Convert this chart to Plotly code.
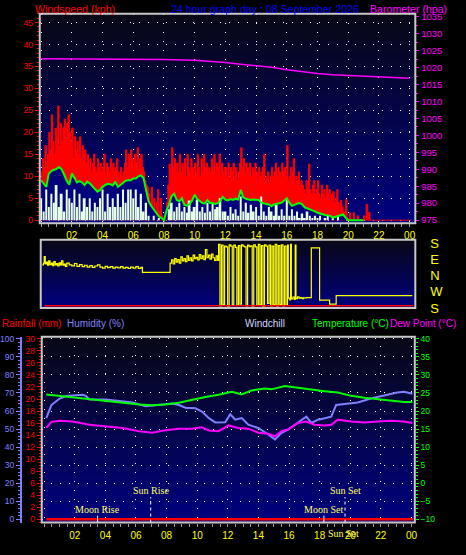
import plotly.graph_objects as go

W, H = 466, 555

# ------------------------------------------------------------------ data
HOUR_TICK_VALUES = [0, 2, 4, 6, 8, 10, 12, 14, 16, 18, 20, 22, 24]
HOUR_TICK_LABELS = [" ", "02", "04", "06", "08", "10", "12", "14", "16", "18", "20", "22", "00"]

# wind gust, 5-minute steps (kph)
GUST_HOURS = [i / 12 for i in range(290)]
GUST_KPH = [
    11, 14, 12, 17, 13, 15, 20, 16, 24, 18, 15, 21,
    19, 26, 17, 22, 18, 21, 23, 19, 22, 24, 20, 18,
    21, 14, 19, 16, 18, 15, 19, 14, 17, 15, 16, 13,
    15, 12, 14, 11, 13, 15, 12, 11, 14, 12, 13, 11,
    12, 15, 11, 13, 12, 11, 14, 12, 13, 11, 12, 14,
    11, 10, 12, 10, 11, 13, 16, 12, 15, 13, 16, 14,
    12, 15, 13, 16.5, 12, 14, 15, 12, 11, 9, 8, 7.5,
    6, 3, 7.5, 2, 5, 1, 4, 7, 2, 5, 1, 0.5,
    0, 0, 4, 8, 12.8, 10, 16.5, 12, 14, 11, 13, 11,
    15, 11, 13, 12, 14, 10, 15, 12, 11, 14, 12, 10,
    13, 11, 15, 12, 10, 14, 11, 15, 12, 13, 11, 12,
    11, 14, 12, 15, 11, 13, 12, 15, 10, 13, 11, 12,
    12, 10, 13, 9, 12, 11, 13, 10, 12, 9, 11, 13,
    16.5, 12, 14, 11, 13, 12, 11, 13, 10, 12, 11, 13,
    11, 9, 12, 10, 11, 12, 15, 9, 10, 11, 8.5, 10,
    12, 10, 11, 13, 10, 12, 11, 10, 13, 11, 12, 10,
    17, 9, 10, 12, 11, 14, 8, 10, 9, 11, 8, 9,
    8, 7, 6, 9, 7, 12.8, 7, 6, 8, 9, 6, 7,
    9, 6, 5, 8, 6, 7, 5, 8, 6, 7, 4.5, 6,
    6.5, 4, 5, 7, 4, 3, 4.5, 3, 2, 1, 4.7, 0.5,
    0, 1.7, 0, 0, 1.7, 0, 0, 1, 0, 0, 0, 0,
    1, 0, 3.6, 0, 1.8, 0, 0, 0, 0, 0, 0, 0,
    0, 0, 0, 0, 0, 0, 0, 0, 0, 0, 0, 0,
    0, 0, 0, 0, 0, 0, 0, 0, 0, 0, 0, 0,
    0, 0,
]

# wind speed, 10-minute steps (kph)
WIND_HOURS = [i / 6 for i in range(144)]
WIND_KPH = [
    5, 2, 7, 3, 6, 4,
    8, 3, 6, 2, 7, 5,
    4, 7, 3, 6, 2, 5,
    3, 5, 2, 4, 3, 5,
    7, 2, 6, 3, 5, 3,
    6, 3, 7, 4, 7, 7,
    5, 7, 3, 6, 2, 4,
    1, 0, 1, 0, 0.5, 0,
    0, 0, 2.5, 4, 2, 3,
    4, 2, 3, 1.7, 4.5, 2,
    3, 4.7, 2, 3, 1.7, 4,
    2, 4, 2.5, 3, 5, 2,
    2, 1, 3, 1.5, 2.5, 1,
    5.4, 2, 4, 1.7, 3.5, 2,
    3, 1, 5.4, 2, 1, 3,
    2, 1, 3.5, 1, 2.5, 1,
    4.7, 1, 2.5, 1, 2, 0.5,
    1.5, 0.5, 2, 1, 0.5, 1,
    0.5, 1, 0, 0.5, 1, 0,
    0.5, 0, 1, 0, 0, 0,
    0, 0, 0, 0, 0, 0,
    0, 0, 0, 0, 0, 0,
    0, 0, 0, 0, 0, 0,
    0, 0, 0, 0, 0, 0,
]

# average wind speed, 10-minute steps (kph)
AVG_HOURS = [i / 6 for i in range(127)]
AVG_KPH = [
    9.1, 8.3, 7.6, 10.6, 11.2, 11.5,
    11.7, 12.1, 11.6, 10.4, 9.0, 8.1,
    10.6, 9.7, 8.6, 8.9, 8.6, 8.0,
    8.8, 8.4, 7.8, 7.0, 6.5, 6.9,
    7.6, 8.0, 8.3, 8.2, 7.9, 8.8,
    7.6, 8.0, 8.6, 9.0, 9.1, 9.1,
    9.5, 9.5, 10.0, 10.2, 9.6, 7.2,
    4.3, 3.3, 2.4, 1.5, 0.9, 0.5,
    0.0, 2.2, 3.6, 5.5, 6.0, 4.6,
    4.3, 5.0, 3.5, 3.3, 3.7, 4.5,
    5.8, 4.8, 4.4, 3.9, 3.8, 4.6,
    3.9, 3.9, 3.7, 3.9, 4.4, 5.3,
    4.7, 4.5, 4.8, 4.6, 4.9, 4.7,
    6.9, 5.2, 4.9, 4.8, 4.6, 4.7,
    4.7, 4.6, 4.0, 3.8, 3.7, 3.6,
    3.2, 3.6, 3.7, 3.8, 4.0, 4.5,
    5.0, 4.0, 3.3, 3.5, 3.8, 3.9,
    3.6, 2.9, 2.7, 2.5, 2.3, 2.0,
    1.7, 1.5, 1.4, 1.2, 1.1, 1.0,
    0.6, 0.8, 1.0, 1.2, 1.3, 0.6,
    0.0, 0.0, 0.0, 0.0, 0.0, 0.0, 0.0,
]

BARO_HOURS = [0, 2, 4, 6, 8, 10, 11, 12, 13, 14, 15, 16, 17, 18, 19, 20, 21, 22, 23, 24]
BARO_HPA = [1022.6, 1022.6, 1022.6, 1022.5, 1022.4, 1022.2, 1021.9, 1021.5, 1021.0, 1020.6,
            1020.1, 1019.4, 1018.8, 1018.3, 1017.9, 1017.7, 1017.5, 1017.3, 1017.1, 1016.9]

# wind direction: 0 = S (bottom), 90 = W, 180 = N, 270 = E, 360 = S (top)
DIR_TICK_VALUES = [0, 90, 180, 270, 360]
DIR_TICK_LABELS = ["S", "W", "N", "E", "S"]
DIR_POINTS = [
    (0.08, 240), (0.15, 250), (0.2, 286), (0.27, 245), (0.35, 255), (0.42, 238), (0.5, 262),
    (0.58, 242), (0.67, 250), (0.75, 236), (0.83, 258), (0.92, 240), (1.0, 248), (1.08, 235),
    (1.17, 252), (1.25, 240), (1.33, 262), (1.42, 238), (1.5, 245), (1.58, 232), (1.67, 250),
    (1.83, 240), (2.0, 235), (2.17, 248), (2.33, 232), (2.5, 242), (2.67, 230), (2.83, 238),
    (3.0, 228), (3.17, 236), (3.33, 226), (3.5, 234), (3.67, 240), (3.83, 228), (4.0, 222),
    (4.17, 232), (4.33, 225), (4.5, 230), (4.67, 222), (4.83, 228), (5.0, 224), (5.17, 230),
    (5.33, 222), (5.5, 226), (5.67, 220), (5.83, 228), (6.0, 222), (6.17, 230), (6.33, 221),
    (6.5, 226),
    (6.6, 198),
    (8.4, 250), (8.5, 268), (8.6, 245), (8.7, 275), (8.8, 255), (8.9, 270), (9.0, 250),
    (9.1, 285), (9.2, 262), (9.3, 275), (9.4, 258), (9.5, 290), (9.6, 265), (9.7, 280),
    (9.8, 262), (9.9, 295), (10.0, 275), (10.1, 282), (10.2, 268), (10.3, 298), (10.4, 275),
    (10.5, 290), (10.6, 270), (10.7, 325), (10.8, 280), (10.9, 295), (11.0, 272), (11.1, 300),
    (11.2, 280), (11.3, 265), (11.4, 290), (11.5, 265),
    (11.56, 355), (11.65, 12), (11.75, 350), (11.85, 20), (11.95, 345), (12.05, 340),
    (12.15, 10), (12.25, 352), (12.35, 345), (12.45, 18), (12.55, 350), (12.65, 338),
    (12.75, 15), (12.85, 348), (12.95, 22), (13.05, 352), (13.15, 345), (13.25, 340),
    (13.35, 12), (13.45, 350), (13.55, 342), (13.65, 346), (13.75, 10), (13.85, 352),
    (13.95, 340), (14.05, 15), (14.15, 355), (14.25, 20), (14.35, 348), (14.45, 10),
    (14.55, 352), (14.65, 345), (14.75, 25), (14.85, 350), (14.95, 12), (15.05, 345),
    (15.15, 18), (15.25, 355), (15.35, 10), (15.45, 348), (15.55, 20), (15.65, 352),
    (15.75, 12), (15.85, 345), (15.95, 15), (16.05, 350),
    (16.1, 55), (16.2, 45), (16.25, 355), (16.3, 50), (16.4, 60), (16.5, 48), (16.55, 350),
    (16.6, 52), (16.7, 62), (16.8, 55), (16.9, 58), (17.0, 52), (17.1, 56), (17.3, 58),
    (17.5, 57),
    (17.6, 335), (18.14, 44), (18.79, 22), (19.22, 69), (24.18, 69),
]
DIR_HOURS = [p[0] for p in DIR_POINTS]
DIR_VALUES = [p[1] for p in DIR_POINTS]
DIR_BASE_MARK = 13  # red level line in the direction panel

# lower chart
TEMP_HOURS = [0.14, 1.01, 1.87, 2.95, 4.04, 5.12, 6.2, 7.07, 7.93, 8.8, 9.66, 10.53, 11.4, 12.26,
              12.91, 13.56, 14.43, 14.86, 15.73, 16.6, 17.46, 18.33, 19.19, 20.06, 20.92, 21.79,
              22.65, 23.52, 24.06]
TEMP_C = [24.6, 24.2, 23.7, 23.2, 22.7, 22.2, 21.8, 21.6, 21.8, 22.3, 23.2, 23.9, 24.5, 25.3,
          24.6, 25.7, 26.2, 26.0, 26.9, 26.5, 26.0, 25.5, 25.1, 24.2, 23.7, 23.3, 22.8, 22.5, 22.5]

HUM_HOURS = [0.14, 0.47, 1.01, 1.44, 2.52, 2.74, 2.95, 4.04, 4.9, 5.77, 6.63, 7.5, 8.37, 8.8,
             9.23, 9.88, 10.31, 10.75, 11.18, 11.83, 12.16, 12.48, 12.91, 13.34, 13.99, 14.64,
             15.08, 15.51, 15.94, 16.38, 16.81, 17.13, 17.46, 17.89, 18.33, 18.76, 19.08, 19.62,
             20.49, 21.35, 22.22, 23.08, 23.52, 24.06]
HUM_PCT = [56, 63.3, 66.9, 68.3, 69, 68.3, 66.4, 66.4, 65.5, 64.7, 62.6, 63.3, 64.2, 63.3,
           61.8, 61.5, 59.7, 56.1, 53.7, 53.8, 58.2, 55.2, 56.1, 52.4, 50.6, 47,
           44.3, 47.9, 49.7, 52.4, 55.2, 56.9, 53.4, 55.2, 56, 56.9, 63.3, 63.7,
           64.7, 66.9, 68.7, 70.2, 70.6, 69.6]

DEW_HOURS = [0.14, 0.47, 1.01, 1.87, 2.95, 4.04, 5.12, 6.2, 7.07, 7.93, 8.8, 9.66, 10.31, 10.75,
             11.4, 12.05, 12.69, 13.34, 13.99, 14.64, 15.08, 15.51, 15.94, 16.6, 17.13, 17.67,
             18.33, 18.76, 19.19, 20.06, 20.92, 21.79, 22.65, 23.52, 24.06]
DEW_C = [15.3, 17.0, 17.3, 17.1, 16.2, 15.8, 15.3, 14.4, 14.0, 14.7, 15.1, 15.1, 15.5, 14.6,
         14.4, 16.0, 15.3, 15.1, 14.0, 13.7, 13.0, 14.4, 14.9, 16.7, 17.1, 16.2,
         16.0, 16.2, 17.6, 17.1, 16.8, 17.1, 17.3, 17.1, 16.7]

RAIN_HOURS = [0.14, 1, 2, 3, 4, 5, 6, 7, 8, 9, 10, 11, 12, 13, 14, 15, 16, 17, 18, 19, 20, 21, 22, 23, 24.1]
RAIN_MM = [0, 0, 0, 0, 0, 0, 0, 0, 0, 0, 0, 0, 0, 0, 0, 0, 0, 0, 0, 0, 0, 0, 0, 0, 0]

EVENT_NAMES = ["Moon Rise", "Sun Rise", "Moon Set", "Sun Set"]
EVENT_HOURS = [3.49, 6.96, 18.28, 19.66]

# ------------------------------------------------------------------ helpers
def px(x):
    return x / W

def py(y):
    return 1 - y / H

FONT = "Liberation Sans, Arial, sans-serif"
YELLOW = "#ffff00"
GRID_DASH = "1px,8px"

fig = go.Figure()

# top panel
fig.add_trace(go.Scatter(x=GUST_HOURS, y=GUST_KPH, xaxis="x", yaxis="y", mode="lines",
                         line=dict(color="#ff0000", width=1, shape="hv"),
                         fill="tozeroy", fillcolor="#ff0000", hoverinfo="skip"))
fig.add_trace(go.Scatter(x=AVG_HOURS, y=AVG_KPH, xaxis="x", yaxis="y", mode="lines",
                         line=dict(color="rgba(0,0,0,0)", width=0),
                         fill="tozeroy", fillcolor="#00007a", hoverinfo="skip"))
fig.add_trace(go.Bar(x=WIND_HOURS, y=WIND_KPH, xaxis="x", yaxis="y7", width=0.13,
                     marker=dict(color="#e6ffe6", line=dict(width=0)), hoverinfo="skip"))
fig.add_trace(go.Scatter(x=AVG_HOURS, y=AVG_KPH, xaxis="x", yaxis="y7", mode="lines",
                         line=dict(color="#00ff00", width=2), hoverinfo="skip"))
fig.add_trace(go.Scatter(x=BARO_HOURS, y=BARO_HPA, xaxis="x", yaxis="y2", mode="lines",
                         line=dict(color="#ff00ff", width=1.5), hoverinfo="skip"))

# direction panel
fig.add_trace(go.Scatter(x=DIR_HOURS, y=DIR_VALUES, xaxis="x2", yaxis="y3", mode="lines",
                         line=dict(color="#ffff00", width=1.2, shape="hv"), hoverinfo="skip"))

# lower panel
fig.add_trace(go.Scatter(x=RAIN_HOURS, y=RAIN_MM, xaxis="x3", yaxis="y4", mode="lines",
                         line=dict(color="#ff0000", width=2.5), hoverinfo="skip"))
fig.add_trace(go.Scatter(x=HUM_HOURS, y=HUM_PCT, xaxis="x3", yaxis="y5", mode="lines",
                         line=dict(color="#8080ff", width=2), hoverinfo="skip"))
fig.add_trace(go.Scatter(x=TEMP_HOURS, y=TEMP_C, xaxis="x3", yaxis="y6", mode="lines",
                         line=dict(color="#00ff00", width=2), hoverinfo="skip"))
fig.add_trace(go.Scatter(x=DEW_HOURS, y=DEW_C, xaxis="x3", yaxis="y6", mode="lines",
                         line=dict(color="#ff00ff", width=2), hoverinfo="skip"))

# ------------------------------------------------------------------ axes
alias = {str(v): t for v, t in zip(HOUR_TICK_VALUES, HOUR_TICK_LABELS)}

def hour_axis(domain, rng, anchor, show_labels=True):
    return dict(
        domain=domain, range=rng, anchor=anchor,
        tickmode="linear", tick0=0, dtick=2, labelalias=alias,
        showticklabels=show_labels,
        ticks="outside" if show_labels else "", ticklen=3, tickcolor="#a0a0a0", tickwidth=1,
        tickfont=dict(family=FONT, size=10, color=YELLOW),
        showgrid=show_labels, gridcolor="#ffffff", gridwidth=1, griddash=GRID_DASH,
        zeroline=False, showline=False,
        minor=dict(dtick=0.5, tick0=0, ticklen=3, tickcolor="#a0a0a0",
                   ticks="outside" if show_labels else "", showgrid=False),
    )

TOP = [py(224), py(10)]
MID = [py(310.7), py(241)]
LOW = [py(530), py(340)]

fig.update_layout(
    xaxis=hour_axis([px(40), px(418)], [-0.09, 24.37], "y"),
    yaxis=dict(domain=TOP, range=[-0.67, 47.0], anchor="x", side="left",
               tickmode="linear", tick0=0, dtick=5, ticks="outside", ticklen=4,
               tickcolor="#ff0000", tickfont=dict(family=FONT, size=8.5, color="#ff0000"),
               showgrid=True, gridcolor="#ffffff", griddash=GRID_DASH, zeroline=False,
               minor=dict(dtick=1, ticklen=2, tickcolor="#ff0000", ticks="outside", showgrid=False)),
    yaxis2=dict(overlaying="y", anchor="x", side="right", range=[974.1, 1035.9],
                tickmode="linear", tick0=975, dtick=5, ticks="outside", ticklen=3,
                tickcolor="#ff00ff", tickfont=dict(family=FONT, size=9.5, color="#ff00ff"),
                showgrid=False, zeroline=False,
                minor=dict(dtick=2.5, ticklen=2, tickcolor="#ff00ff", ticks="outside")),
    yaxis7=dict(overlaying="y", anchor="x", range=[-0.67, 47.0], visible=False),
    xaxis2=hour_axis([px(41), px(418)], [-0.026, 24.375], "y3", show_labels=False),
    yaxis3=dict(domain=MID, range=[0, 380], anchor="x2", side="right",
                tickmode="array", tickvals=DIR_TICK_VALUES, ticktext=DIR_TICK_LABELS,
                ticks="", ticklabelstandoff=14,
                tickfont=dict(family=FONT, size=13, color=YELLOW),
                showgrid=False, zeroline=False),
    xaxis3=hour_axis([px(42), px(417.5)], [-0.16, 24.22], "y4"),
    yaxis4=dict(domain=LOW, range=[-0.54, 30.37], anchor="x3", side="left",
                tickmode="linear", tick0=0, dtick=2, ticks="outside", ticklen=4,
                tickcolor="#ff0000", tickfont=dict(family=FONT, size=8.5, color="#ff0000"),
                showgrid=False, zeroline=False,
                minor=dict(dtick=0.5, ticklen=2, tickcolor="#ff0000", ticks="outside")),
    yaxis5=dict(overlaying="y4", anchor="free", position=px(21), side="left",
                range=[-1.8, 101.2], tickmode="linear", tick0=0, dtick=10,
                ticks="outside", ticklen=4, tickcolor="#8080ff",
                tickfont=dict(family=FONT, size=8.5, color="#8080ff"),
                showline=True, linecolor="#8080ff", linewidth=2,
                showgrid=False, zeroline=False,
                minor=dict(dtick=2, ticklen=2, tickcolor="#8080ff", ticks="outside")),
    yaxis6=dict(overlaying="y4", anchor="x3", side="right", range=[-10.9, 40.6],
                tickmode="linear", tick0=-10, dtick=5, ticks="outside", ticklen=3,
                tickcolor="#00ff00", tickfont=dict(family=FONT, size=8.5, color="#00ff00"),
                showgrid=True, gridcolor="#ffffff", griddash=GRID_DASH, zeroline=False,
                minor=dict(dtick=1, ticklen=2, tickcolor="#00ff00", ticks="outside", showgrid=False)),
)

# ------------------------------------------------------------------ background gradients + frames
shapes = []
TOP_RGB = (8, 8, 22)
BOT_RGB = (0, 0, 128)
N_BANDS = 40

def gradient(xref, yref):
    for k in range(N_BANDS):
        f = (k + 0.5) / N_BANDS  # 0 at top, 1 at bottom
        c = tuple(round(TOP_RGB[i] + (BOT_RGB[i] - TOP_RGB[i]) * f) for i in range(3))
        shapes.append(dict(type="rect", xref=xref, yref=yref, x0=0, x1=1,
                           y0=0, y1=1 - k / N_BANDS,
                           fillcolor="rgb(%d,%d,%d)" % c, line=dict(width=0), layer="below"))

PANELS = (("x domain", "y domain"), ("x2 domain", "y3 domain"), ("x3 domain", "y4 domain"))
for xr, yr in PANELS:
    gradient(xr, yr)
for xr, yr in PANELS:
    shapes.append(dict(type="rect", xref=xr, yref=yr, x0=0, x1=1, y0=0, y1=1,
                       line=dict(color="#c8c8c8", width=2), fillcolor="rgba(0,0,0,0)", layer="above"))

shapes.append(dict(type="line", xref="x2 domain", yref="y3", x0=0.01, x1=0.995,
                   y0=DIR_BASE_MARK, y1=DIR_BASE_MARK, line=dict(color="#ff0000", width=1.5)))

EVENT_LINE_TOP = {"Moon Rise": 0.037, "Sun Rise": 0.137, "Moon Set": 0.037, "Sun Set": 0.137}
EVENT_LABEL_Y = {"Moon Rise": 0.07, "Sun Rise": 0.17, "Moon Set": 0.07, "Sun Set": 0.17}
for name, hr in zip(EVENT_NAMES, EVENT_HOURS):
    dotted = name.startswith("Sun")
    shapes.append(dict(type="line", xref="x3", yref="y4 domain", x0=hr, x1=hr,
                       y0=0, y1=EVENT_LINE_TOP[name],
                       line=dict(color="#ffffff", width=1, dash="dot" if dotted else "solid")))

SERIF = "Liberation Serif, Times New Roman, serif"
annotations = []
for name, hr in zip(EVENT_NAMES, EVENT_HOURS):
    annotations.append(dict(text=name, xref="x3", yref="y4 domain", x=hr,
                            y=EVENT_LABEL_Y[name], xanchor="center", yanchor="middle",
                            showarrow=False, font=dict(family=SERIF, size=10, color="#ffff66")))
annotations.append(dict(text="Sun Set", xref="x3", yref="paper", x=EVENT_HOURS[3] - 0.1,
                        y=py(541), xanchor="center", yanchor="middle", showarrow=False,
                        font=dict(family=SERIF, size=10, color="#ffff66")))

def header(text, x, y, color, size):
    annotations.append(dict(text=text, xref="paper", yref="paper", x=px(x), y=py(y),
                            xanchor="left", yanchor="middle", showarrow=False,
                            font=dict(family=FONT, size=size, color=color)))

header("Windspeed (kph)", 33.5, 5, "#ff0000", 10.6)
header("24 hour graph day : 08 September 2026", 170.5, 5, "#0000ff", 10.6)
header("Barometer (hpa)", 370.5, 5, "#ff00ff", 10.6)
header("Rainfall (mm)", -0.5, 327, "#ff0000", 10)
header("Humidity (%)", 65.5, 327, "#8080ff", 10)
header("Windchill", 245, 327, "#d0d8ff", 10)
header("Temperature (°C)", 312, 327, "#00ff00", 10)
header("Dew Point (°C)", 391, 327, "#ff00ff", 10)

fig.update_layout(
    width=W, height=H, autosize=False,
    margin=dict(l=0, r=0, t=0, b=0),
    paper_bgcolor="#000000", plot_bgcolor="#000000",
    showlegend=False, barmode="overlay",
    font=dict(family=FONT, color="#ffffff"),
    shapes=shapes, annotations=annotations,
)

PAGE_FIX = (
    "var de=document.documentElement, b=document.body;"
    "de.style.margin='0'; de.style.padding='0'; de.style.overflow='hidden'; de.style.background='#000';"
    "b.style.margin='0'; b.style.padding='0'; b.style.overflow='hidden'; b.style.background='#000';"
)

fig.write_html("out.html", config={"displayModeBar": False, "responsive": False},
               post_script=PAGE_FIX)
